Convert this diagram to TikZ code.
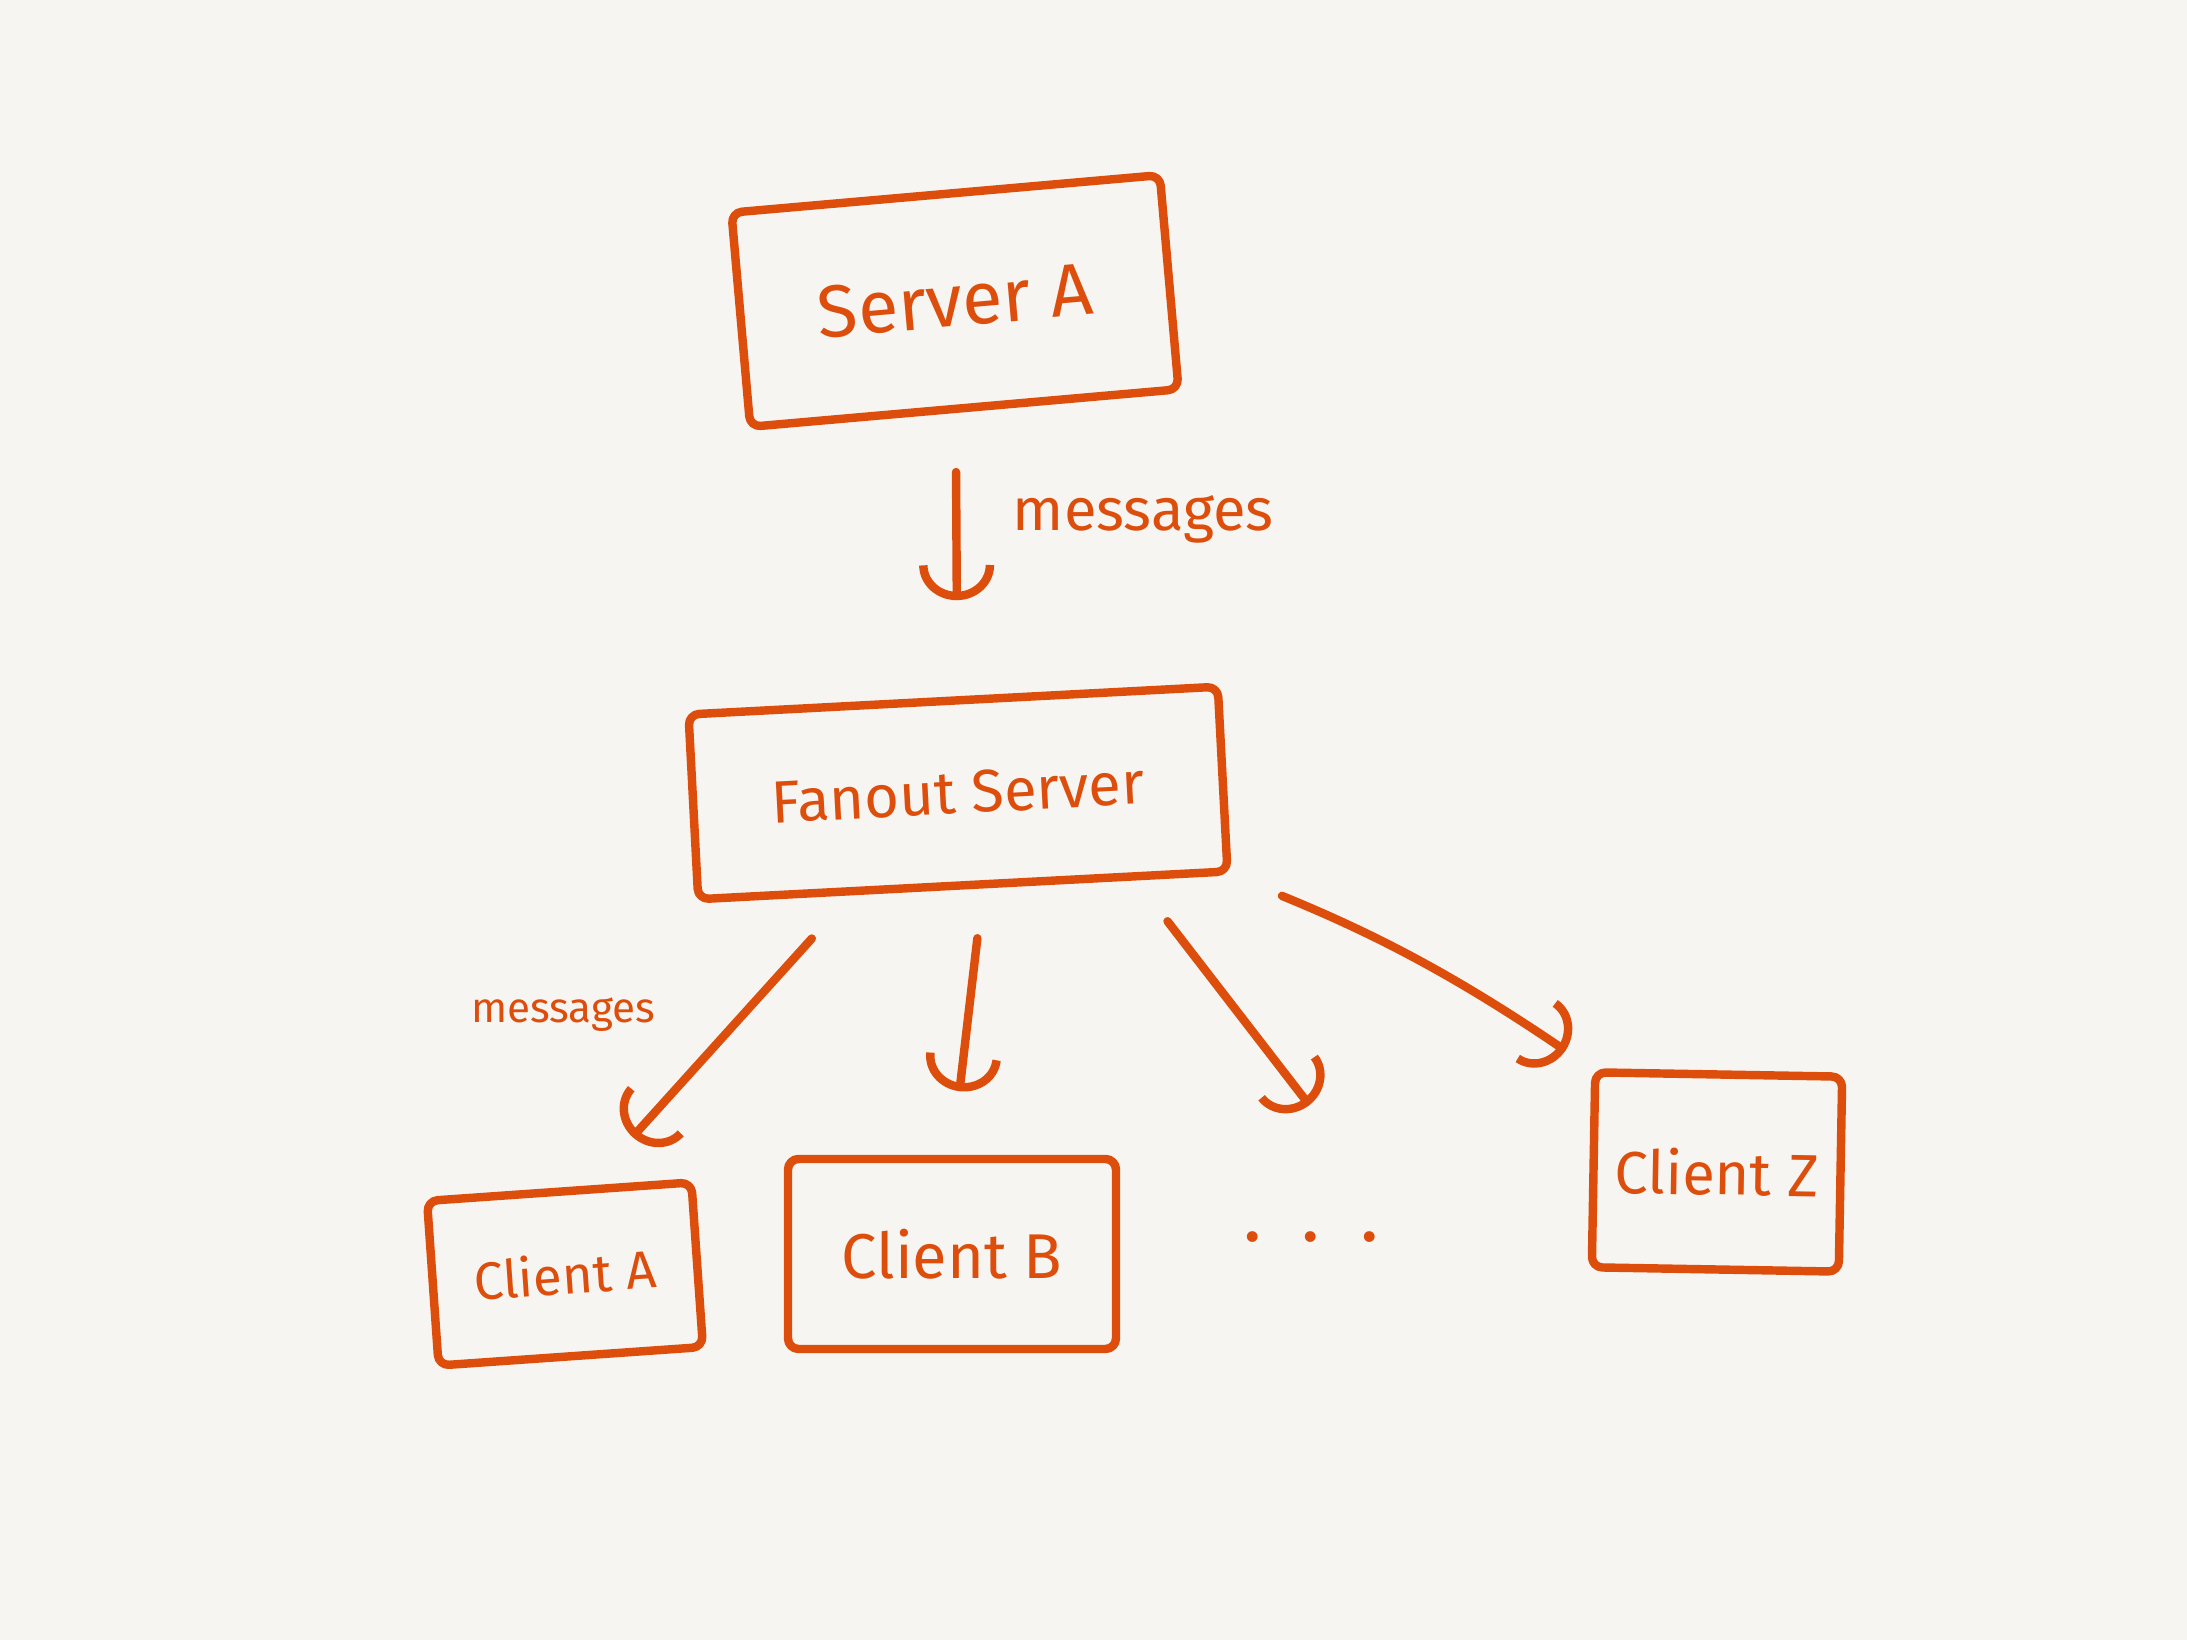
\documentclass[tikz,border=0pt]{standalone}
\usepackage{fontspec}
\setmainfont{Fira Sans}
\usetikzlibrary{arrows.meta,positioning,calc}
\definecolor{pen}{HTML}{DD4E0D}
\definecolor{paper}{HTML}{F6F5F1}
\tikzset{
  sketch/.style={draw=pen, line width=2.4pt, line cap=round, line join=round},
  box/.style={sketch, rectangle, rounded corners=3pt, text=pen, align=center, inner sep=0pt},
  tag/.style={text=pen, inner sep=2pt},
  arrow/.style={sketch, -{Arc Barb[length=3.5mm, width=7.5mm]}}
}

\begin{document}
\begin{tikzpicture}
  \fill[paper] (0,0) rectangle (21.87,16.40);
  \useasboundingbox (0,0) rectangle (21.87,16.40);
  % boxes
  \node[box, minimum width=4.3cm, minimum height=2.15cm, rotate=5, font=\fontsize{21}{24}\selectfont] (serverA) at (9.55,13.39) {Server A};
  \node[box, minimum width=5.3cm, minimum height=1.85cm, rotate=3, font=\fontsize{17}{20}\selectfont] (fanout) at (9.58,8.47) {Fanout Server};
  \node[box, minimum width=2.65cm, minimum height=1.65cm, rotate=4, font=\fontsize{15}{18}\selectfont] (clientA) at (5.65,3.66) {Client A};
  \node[box, minimum width=3.28cm, minimum height=1.9cm, font=\fontsize{18}{21}\selectfont] (clientB) at (9.52,3.86) {Client B};
  \node[tag, font=\fontsize{22}{24}\selectfont] (dots) at (13.11,4.03) {.\hspace{0.4cm}.\hspace{0.4cm}.};
  \node[box, minimum width=2.47cm, minimum height=1.95cm, rotate=-1, font=\fontsize{17}{20}\selectfont] (clientZ) at (17.17,4.68) {Client Z};
  % connectors
  \draw[arrow, shorten <=0.59cm, shorten >=0.96cm] (serverA) -- node[tag, midway, right=0.45cm, yshift=0.35cm, font=\fontsize{17}{20}\selectfont] (msgtop) {messages} (fanout);
  \draw[arrow, shorten <=0.66cm, shorten >=0.68cm] ([xshift=-1.07cm]fanout.south) -- node[tag, midway, left=0.55cm, yshift=0.24cm, font=\fontsize{12}{14}\selectfont] (msgleft) {messages} ([xshift=0.28cm]clientA.north);
  \draw[arrow, shorten <=0.49cm, shorten >=0.64cm] ([xshift=0.2cm]fanout.south) -- (clientB.north);
  \draw[arrow, shorten <=0.4cm, shorten >=1.5cm] ([xshift=1.8cm]fanout.south) -- ([xshift=0.9cm]dots.north);
  \draw[arrow, shorten <=0.54cm, shorten >=0.31cm] (fanout.south east) to[bend left=6] (clientZ.north west);
\end{tikzpicture}
\end{document}
